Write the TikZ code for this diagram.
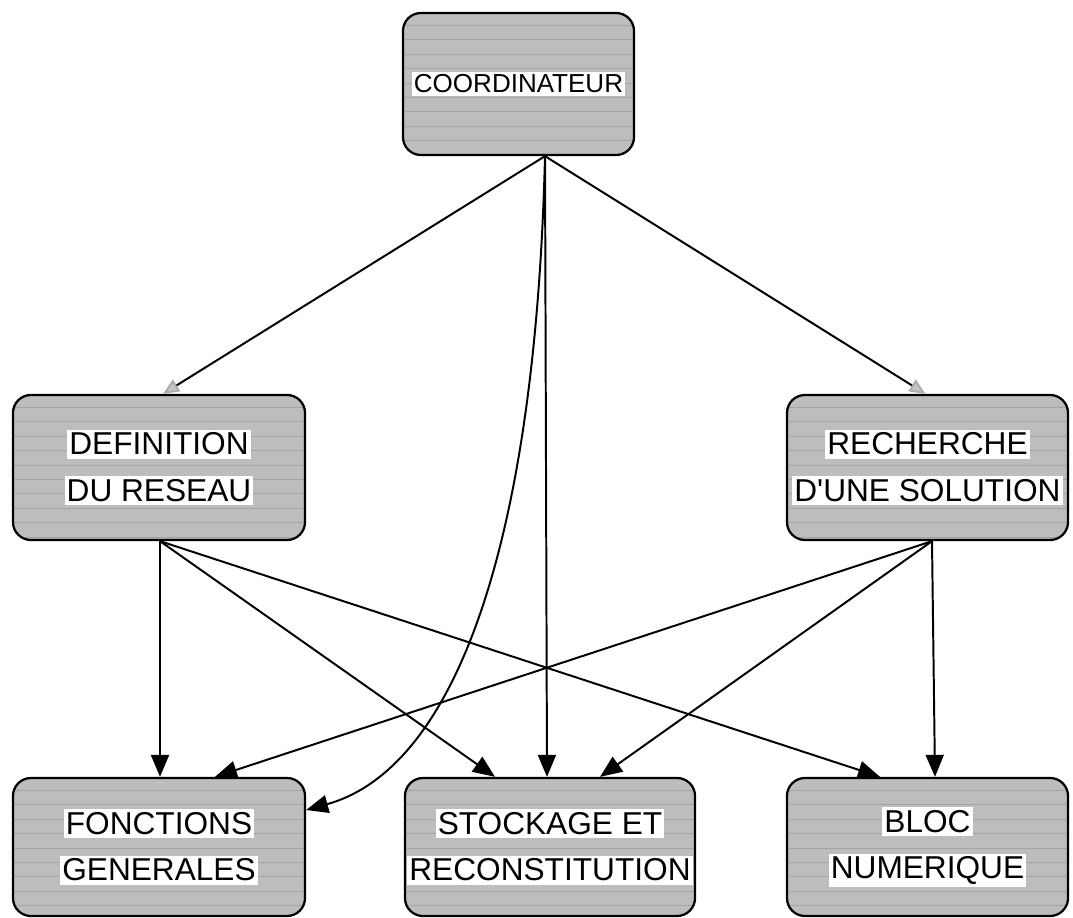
\documentclass[tikz,border=0pt]{standalone}
\usepackage{fontspec}
\setmainfont{Liberation Sans}
\usetikzlibrary{arrows.meta,calc}
\newcommand{\wb}[1]{{\setlength{\fboxsep}{1.5pt}\colorbox{white}{\rule[-0.06em]{0pt}{0.78em}#1}}}
\tikzset{
  blk/.style={draw=black, line width=1.6pt, rounded corners=0.45cm, fill=gray!52,
    inner sep=0pt, align=center, font=\fontsize{22.5}{33}\selectfont,
    path picture={\foreach \k in {1,...,20}{\draw[gray!72, line width=0.6pt]
      ($(path picture bounding box.north west)+(0,-\k*0.36cm+0.05cm)$) -- ++(10cm,0);}}},
  conn/.style={line width=1.4pt, draw=black},
  bhead/.style={-{Triangle[length=0.55cm, width=0.45cm]}},
  ghead/.style={-{Triangle[length=0.4cm, width=0.34cm, fill=gray!45, color=gray!65]}}
}
\begin{document}
\begin{tikzpicture}[x=0.025cm,y=-0.025cm]
\useasboundingbox (0,0) rectangle (1073,918);
\node[blk, minimum width=5.775cm, minimum height=3.55cm, font=\fontsize{18.5}{32}\selectfont] (co) at (518.5,84) {\wb{COORDINATEUR}};
\node[blk, minimum width=7.3cm, minimum height=3.625cm] (de) at (159,467.5) {\wb{DEFINITION}\\\wb{DU RESEAU}};
\node[blk, minimum width=7.025cm, minimum height=3.625cm] (re) at (927.5,467.5) {\wb{RECHERCHE}\\\wb{D\textquotesingle UNE SOLUTION}};
\node[blk, minimum width=7.3cm, minimum height=3.45cm] (fo) at (159,847) {\wb{FONCTIONS}\\\wb{GENERALES}};
\node[blk, minimum width=7.25cm, minimum height=3.45cm] (st) at (550,847) {\wb{STOCKAGE ET}\\\wb{RECONSTITUTION}};
\node[blk, minimum width=7.025cm, minimum height=3.45cm] (bl) at (927.5,847) {\wb{BLOC}\\\wb{NUMERIQUE}};

\coordinate (cos) at ($(co.south)+(26.5,0)$);
\coordinate (den) at ($(de.north)+(4,0)$);
\coordinate (ren) at ($(re.north)+(-2,0)$);
\coordinate (des) at ($(de.south)+(1,0)$);
\coordinate (res) at ($(re.south)+(4.5,0)$);
\coordinate (fo1) at ($(fo.north)+(1,0)$);
\coordinate (fo2) at ($(fo.north)+(56,0)$);
\coordinate (foe) at ($(fo.east)+(0,-37)$);
\coordinate (st1) at ($(st.north)+(-55,0)$);
\coordinate (st2) at ($(st.north)+(-3,0)$);
\coordinate (st3) at ($(st.north)+(50,0)$);
\coordinate (bl1) at ($(bl.north)+(-47.5,0)$);
\coordinate (bl2) at ($(bl.north)+(7.5,0)$);

\draw[conn, ghead] (cos) -- (den);
\draw[conn, ghead] (cos) -- (ren);
\draw[conn, bhead] (cos) -- (st2);
\draw[conn, bhead] (cos) .. controls (535,560) and (450,770) .. (foe);

\draw[conn, bhead] (des) -- (fo1);
\draw[conn, bhead] (des) -- (st1);
\draw[conn, bhead] (des) -- (bl1);

\draw[conn, bhead] (res) -- (fo2);
\draw[conn, bhead] (res) -- (st3);
\draw[conn, bhead] (res) -- (bl2);
\end{tikzpicture}
\end{document}
